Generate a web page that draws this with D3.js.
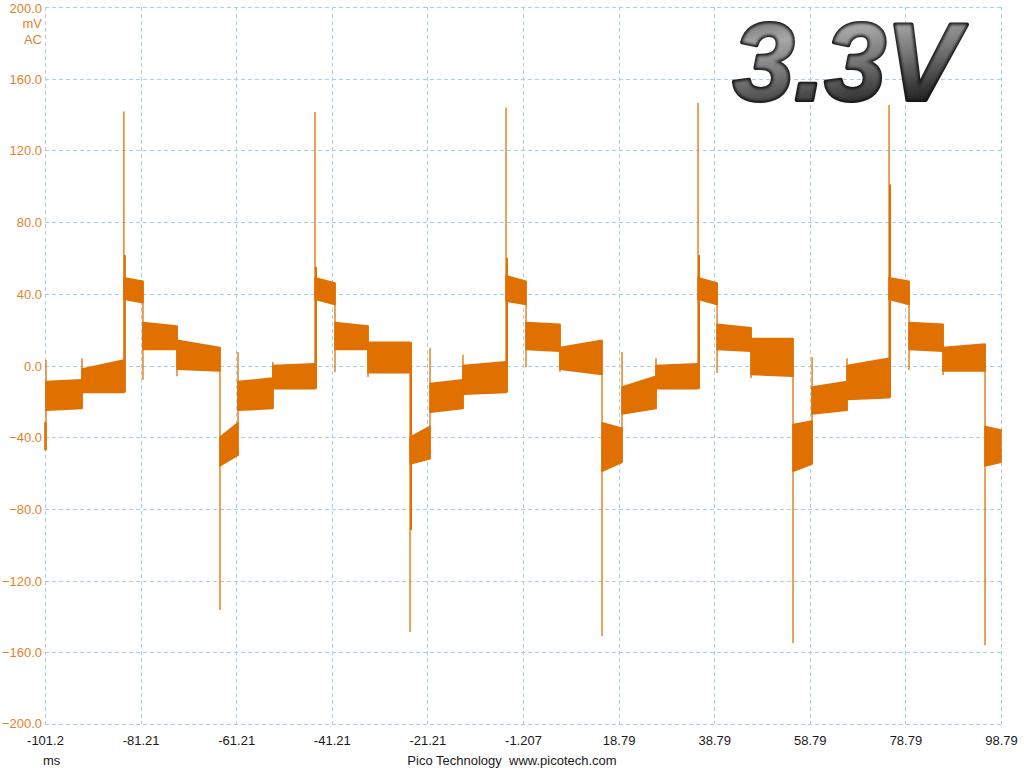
<!DOCTYPE html>
<html>
<head>
<meta charset="utf-8">
<script src="https://cdn.jsdelivr.net/npm/d3@7"></script>
<style>
  html, body { margin: 0; padding: 0; background: #fff; }
  svg { display: block; }
</style>
</head>
<body>
<svg id="chart"></svg>
<script>
// time axis, ms
var xTicks = [-101.207, -81.207, -61.207, -41.207, -21.207, -1.207, 18.793, 38.793, 58.793, 78.793, 98.793];
var xTickLabels = ["-101.2", "-81.21", "-61.21", "-41.21", "-21.21", "-1.207", "18.79", "38.79", "58.79", "78.79", "98.79"];
// voltage axis, mV
var yTicks = [-200, -160, -120, -80, -40, 0, 40, 80, 120, 160, 200];

// trace: flat noisy steps between these edges (ms)
var edges = [-101.21, -101.0, -93.47, -84.7, -80.71, -73.59, -64.6, -60.83, -53.53, -44.72, -40.54,
  -33.63, -24.84, -20.66, -13.76, -4.76, -0.58, 6.53, 15.32, 19.51, 26.62,
  35.41, 39.39, 46.5, 55.28, 59.27, 66.58, 75.37, 79.55, 86.67, 95.45, 98.79];
// upper / lower edge of the noise band at start and end of each step (mV)
var topStart = [-32, -9, -2, 49, 24, 14, -40, -9, 0, 49, 24, 13, -40, -10, 0, 50, 24, 10, -32, -12, 0, 49, 23, 15, -33, -12, 0, 49, 24, 10, -34];
var topEnd   = [-32, -8, 3, 47, 22, 10, -32, -7, 1, 46, 22, 13, -34, -8, 2, 47, 23, 14, -35, -6, 1, 46, 21, 15, -31, -9, 4, 47, 23, 12, -36];
var botStart = [-47, -25, -15, 37, 9, -2, -56, -25, -13, 37, 9, -4, -55, -26, -16, 36, 9, -2, -59, -27, -13, 37, 9, -5, -59, -27, -19, 37, 9, -3, -56];
var botEnd   = [-47, -24, -15, 35, 9, -3, -50, -24, -13, 34, 9, -4, -52, -24, -15, 34, 8, -5, -54, -24, -13, 34, 8, -6, -55, -25, -18, 34, 8, -3, -54];
// glitch at each step edge (edges[1] .. edges[30]), and the thicker part of the big spikes
var jump = [3, 4, 141.7, -8, -6, -136.4, 7.5, 2, 141.4, -3.6, -6.4, -148.7, 9.8, 6, 144, -1, -3.6, -151, 7.5, 4,
  146.4, -4.2, -7, -154.8, 4.7, 4, 145.3, -2.5, -5.3, -156];
var knee = [null, null, 61.6, null, null, null, null, null, 55, null, null, -91.8, null, null, 60, null, null, null, null, null,
  61.6, null, null, null, null, null, 101, null, null, null];

var width = 1024, height = 768;
var margin = {left: 45, right: 23, top: 7, bottom: 44};
var traceColor = "#e07000";
var gridColor = "#a9cfe4";
var labelFont = "'Liberation Sans', Arial, sans-serif";

var svg = d3.select("#chart").attr("width", width).attr("height", height);

var x = d3.scaleLinear().domain([-101.207, 98.793]).range([margin.left, width - margin.right]);
var y = d3.scaleLinear().domain([-200, 200]).range([height - margin.bottom, margin.top]);

// grid
var grid = svg.append("g").attr("stroke", gridColor).attr("stroke-width", 1).attr("stroke-dasharray", "4,3").attr("fill", "none");
grid.selectAll("line.v").data(xTicks).enter().append("line")
    .attr("class", "v")
    .attr("x1", function (d) { return Math.round(x(d)) + 0.5; })
    .attr("x2", function (d) { return Math.round(x(d)) + 0.5; })
    .attr("y1", y(200)).attr("y2", y(-200));
grid.selectAll("line.h").data(yTicks).enter().append("line")
    .attr("class", "h")
    .attr("y1", function (d) { return Math.round(y(d)) + 0.5; })
    .attr("y2", function (d) { return Math.round(y(d)) + 0.5; })
    .attr("x1", x.range()[0]).attr("x2", x.range()[1]);

// axes, labels only
var yAxis = svg.append("g")
    .attr("transform", "translate(" + (margin.left - 3) + ",0)")
    .call(d3.axisLeft(y).tickValues(yTicks).tickSize(0).tickPadding(0).tickFormat(d3.format(".1f")));
yAxis.select(".domain").remove();
yAxis.selectAll("text")
    .attr("fill", "#e3822c")
    .style("font-family", labelFont)
    .style("font-size", "13px")
    .attr("dy", "0.35em")
    .attr("y", function (d) { return d === 200 ? 1 : (d === -200 ? -1 : 0); });

var xAxis = svg.append("g")
    .attr("transform", "translate(0," + (height - margin.bottom) + ")")
    .call(d3.axisBottom(x).tickValues(xTicks).tickSize(0).tickPadding(12)
        .tickFormat(function (d, i) { return xTickLabels[i]; }));
xAxis.select(".domain").remove();
xAxis.selectAll("text")
    .attr("fill", "#1a1a1a")
    .style("font-family", labelFont)
    .style("font-size", "13px");

svg.append("text").attr("x", 42).attr("y", 28).attr("text-anchor", "end")
    .attr("fill", "#e3822c").style("font-family", labelFont).style("font-size", "13px").text("mV");
svg.append("text").attr("x", 42).attr("y", 44).attr("text-anchor", "end")
    .attr("fill", "#e3822c").style("font-family", labelFont).style("font-size", "13px").text("AC");
svg.append("text").attr("x", 43).attr("y", 765)
    .attr("fill", "#1a1a1a").style("font-family", labelFont).style("font-size", "13px").text("ms");
svg.append("text").attr("x", 512).attr("y", 765).attr("text-anchor", "middle")
    .attr("fill", "#1a1a1a").style("font-family", labelFont).style("font-size", "13px")
    .attr("xml:space", "preserve").text("Pico Technology  www.picotech.com");

// trace
var segs = topStart.map(function (d, i) {
    return [
        {t: edges[i], top: topStart[i], bot: botStart[i]},
        {t: edges[i + 1], top: topEnd[i], bot: botEnd[i]}
    ];
});
var band = d3.area()
    .x(function (d) { return x(d.t); })
    .y0(function (d) { return y(d.bot); })
    .y1(function (d) { return y(d.top); });

var trace = svg.append("g");
trace.selectAll("path.band").data(segs).enter().append("path")
    .attr("class", "band")
    .attr("d", band)
    .attr("fill", traceColor)
    .attr("stroke", traceColor)
    .attr("stroke-width", 1.6)
    .attr("stroke-linejoin", "round");

// step edges with their glitches
var steps = jump.map(function (d, k) {
    var i = k + 1;
    var vals = [d, topEnd[i - 1], botEnd[i - 1], topStart[i], botStart[i]];
    return {t: edges[i], lo: d3.min(vals), hi: d3.max(vals), knee: knee[k], prevTop: topEnd[i - 1], prevBot: botEnd[i - 1]};
});
trace.selectAll("line.step").data(steps).enter().append("line")
    .attr("class", "step")
    .attr("x1", function (d) { return x(d.t); })
    .attr("x2", function (d) { return x(d.t); })
    .attr("y1", function (d) { return y(d.hi); })
    .attr("y2", function (d) { return y(d.lo); })
    .attr("stroke", traceColor)
    .attr("stroke-width", 1.3);
trace.selectAll("line.knee").data(steps.filter(function (d) { return d.knee !== null; })).enter().append("line")
    .attr("class", "knee")
    .attr("x1", function (d) { return x(d.t) + 1; })
    .attr("x2", function (d) { return x(d.t) + 1; })
    .attr("y1", function (d) { return y(d.knee); })
    .attr("y2", function (d) { return d.knee > 0 ? y(d.prevBot) : y(d.prevTop); })
    .attr("stroke", traceColor)
    .attr("stroke-width", 2);

// big embossed title
var defs = svg.append("defs");
var grad = defs.append("linearGradient").attr("id", "metal").attr("x1", 0).attr("y1", 0).attr("x2", 0.3).attr("y2", 1);
grad.append("stop").attr("offset", "0%").attr("stop-color", "#444");
grad.append("stop").attr("offset", "35%").attr("stop-color", "#a8a8a8");
grad.append("stop").attr("offset", "60%").attr("stop-color", "#777");
grad.append("stop").attr("offset", "100%").attr("stop-color", "#1a1a1a");
var blur = defs.append("filter").attr("id", "soft").attr("x", "-10%").attr("y", "-10%").attr("width", "120%").attr("height", "120%");
blur.append("feGaussianBlur").attr("stdDeviation", 1.6);

var title = svg.append("g").style("font-family", labelFont)
    .style("font-size", "110px").style("font-style", "italic").style("font-weight", "bold");
title.append("text").attr("x", 733).attr("y", 100)
    .attr("fill", "#111").attr("stroke", "#111").attr("stroke-width", 4).attr("stroke-linejoin", "round")
    .text("3.3V");
title.append("text").attr("x", 733).attr("y", 100)
    .attr("fill", "url(#metal)").attr("filter", "url(#soft)")
    .text("3.3V");
</script>
</body>
</html>
